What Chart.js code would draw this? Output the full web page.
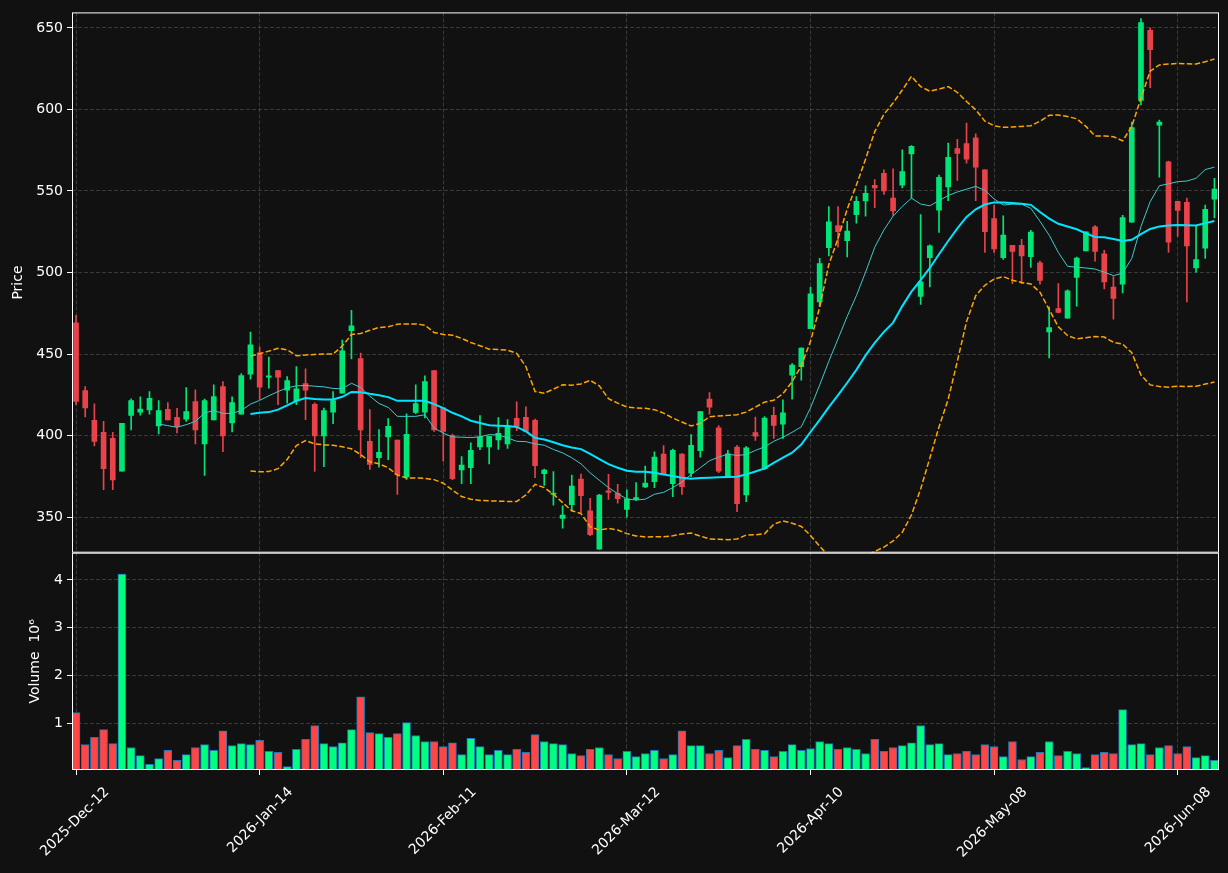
<!DOCTYPE html>
<html>
<head>
<meta charset="utf-8">
<script src="https://cdn.jsdelivr.net/npm/chart.js@4.4.1/dist/chart.umd.min.js"></script>
<style>
  html, body { margin: 0; padding: 0; background: #111111; }
  #wrap { width: 1228px; height: 873px; }
</style>
</head>
<body>
<div id="wrap"><canvas id="chart" width="1228" height="873"></canvas></div>
<script>
// OHLC per trading day, index 0 = 2025-Dec-12
const open = [469.1,427.6,409.3,402.0,398.4,378.2,412.4,414.4,415.7,405.9,
  416.1,411.2,410,420.9,394.9,409.6,430.1,407.7,413.2,437.6,
  450.8,435.8,439.8,427.8,421.3,431.9,419.1,399.8,414.4,426,
  464.4,447.2,396.5,386.4,399.2,397.2,374.6,414.2,414.4,439.8,
  417.1,400.2,378.9,380.3,393.1,393.1,397.4,394.9,410.6,411.2,
  409.3,376.6,364,349.2,357.7,373.4,353.9,330.3,366.1,364.6,
  354.7,360.8,368.5,371.7,388.6,370.5,388.6,377,390.7,422.4,
  404.7,375.2,392.9,363.6,401.8,379.7,412.4,407,437,442.2,
  465.5,482,515.3,528.8,519.5,535.4,543.9,553.4,560.8,545.6,
  553.6,572.7,485.4,509.1,538.3,552.5,576,579,582.6,562.9,
  533,509.1,516.7,516.7,509.7,505.9,463.6,477.9,472,497,
  513.3,528,511.4,491.1,492.8,530.9,605.5,648.5,590.3,567.8,
  543.6,543,502.8,515,544.9];
const high = [473.8,430.1,419.5,408.7,402,407.5,422.6,423.8,427,421.5,
  420.3,416.7,429.5,428,422.4,431.1,433.1,423.8,438,463.4,
  454.5,448.2,439.8,436.2,442.3,440.9,420.1,416.9,427,458.5,
  476.8,450.6,415.9,403.7,410.4,397.2,413.4,431.1,436.6,439.8,
  417.1,401,387.2,395.5,412.2,399.6,411,409.8,420.7,417.7,
  410.2,379.5,378,356.9,375.8,376.4,361.6,364,376.2,370.1,
  366.7,371.2,381.3,390,393.9,391.7,389,400.6,414.8,426.4,
  406.1,391,394.1,393.3,411.4,411.6,417.5,422,444.2,453.8,
  491.1,508.7,540.5,540.5,531.4,546.6,553.2,557,562.9,563.6,
  575.2,577.8,535.6,517,559.7,579.4,581.6,591.7,585,562.9,
  541.3,534.7,516.7,520.3,525.8,507,479,493.2,489.4,509.5,
  525,528.8,513.6,497.5,535,592.2,655.7,650,593.4,568.4,
  543.6,545.6,529,541.3,557.8];
const low = [419,411.4,393.7,366.9,366.9,378.2,403.5,412.6,413.2,401,
  409.6,401.6,408.7,394.9,375.6,409.6,390.2,402.2,413.2,434.6,
  422,429.1,418.9,419.9,418.9,409.8,378,381,407.3,426,
  447,386.4,379.3,380.7,385.2,364,373.2,413.4,410.8,402.6,
  384.3,373,370.5,370.5,391.3,382.7,391.5,392.1,403,402.6,
  374.2,369.5,357.3,343.3,353.8,352.8,338.6,330.3,360.8,358.5,
  350.2,360.2,368.1,368.1,376.2,362.6,364,374.8,386.8,413.2,
  377.2,374.2,353.3,359.5,397,379.1,398.2,398.2,422.3,434,
  465.5,479,510.2,515.5,509.5,530.3,534.5,539.8,547.9,535,
  551.9,545.6,480.5,491.1,524.6,544,556.4,567,544,512.3,
  512.3,508,493.2,493.2,503.2,492.8,447.7,475.2,472,479.4,
  513.3,507,490,471.4,487.5,530.9,602.8,613.3,558.5,512.3,
  522.2,482,500.2,508.7,533.5];
const close = [420.9,416.9,396.5,379.7,372.8,407.5,421.5,416.3,422.8,415.4,
  409.6,405.5,414.8,403.5,421.5,424,399.8,420.3,436.8,455.7,
  429.7,436.6,435.8,433.7,428.7,427.8,399.8,415.4,421.5,452,
  467.3,403.5,382.3,389.8,405.7,376,400.8,419.7,433.1,403.5,
  402.6,373.6,381.9,390.9,399.2,399.6,401.4,405.9,405.7,402.6,
  381.5,378.9,364.8,351.2,369.1,363.2,339.2,363.6,365.1,361.4,
  361.2,362,370.9,386.8,376.2,391,368.7,394.1,414.8,417.5,
  378.2,388.8,358.3,392.5,399.6,410.8,406.3,414,443.3,453.6,
  486.9,505.5,531.1,525,525.4,543.6,548.5,551.9,550,537.7,
  561.9,577.3,494.3,516.3,558.3,570.6,573.1,569.5,564.6,525,
  514.4,522.9,512.9,510.2,524.8,495.1,466.3,475.6,488.8,508.9,
  525,512.9,494.3,484.1,533.7,588.8,653.2,636.7,592.2,518.6,
  538.1,516.3,507.9,538.8,551.1];
// volume in millions
const volume = [1.23,0.56,0.71,0.875,0.58,4.125,0.5,0.33,0.15,0.27,
  0.44,0.23,0.35,0.5,0.56,0.44,0.85,0.54,0.58,0.56,
  0.65,0.42,0.4,0.10,0.46,0.67,0.96,0.58,0.52,0.6,
  0.875,1.56,0.81,0.79,0.71,0.79,1.02,0.75,0.625,0.625,
  0.52,0.6,0.35,0.69,0.52,0.35,0.44,0.35,0.46,0.4,
  0.77,0.625,0.58,0.56,0.375,0.33,0.46,0.5,0.35,0.27,
  0.42,0.31,0.375,0.44,0.27,0.35,0.85,0.54,0.54,0.375,
  0.44,0.29,0.54,0.67,0.46,0.44,0.31,0.42,0.56,0.44,
  0.48,0.625,0.58,0.46,0.5,0.46,0.375,0.67,0.42,0.5,
  0.54,0.6,0.96,0.56,0.58,0.35,0.375,0.42,0.35,0.56,
  0.52,0.31,0.625,0.25,0.31,0.4,0.625,0.33,0.42,0.375,
  0.08,0.35,0.4,0.375,1.29,0.56,0.58,0.35,0.5,0.54,
  0.375,0.52,0.29,0.33,0.23];

// overlays
const ma10Start = 9;
const ma10 = [407.1,406.1,405.1,406.7,408.7,413.8,415.4,413.6,413.6,415.4,
  419.3,421.6,424.4,427.0,429.3,430.5,430.7,430.3,429.9,428.9,
  428.7,432.1,429.5,424.2,419.7,417.3,411.8,411.8,411.8,412.8,
  404.7,401.5,399.2,399,398.8,399.2,400.6,400.4,398.6,396.5,
  396.3,394.9,394.1,391.5,389.4,386.4,382.7,377.2,372.6,368.1,
  364.4,361.1,360.5,361,364,365.2,368.1,371.5,376.2,380.3,
  384.6,386.8,388.6,387.8,388.4,390.9,393.1,396.5,399,402,
  405.4,417,431,445.6,459.3,473.1,485.8,500.2,515.5,526.1,
  534.6,540.5,545.6,542,540.9,544.1,547.2,549.4,551.1,552.8,
  550.4,545.1,541.4,541.9,541.9,539.4,531.4,522.9,512.3,503.8,
  503.2,502.8,502.1,500.2,498.1,499.6,508.7,528.2,543.4,553.2,
  554.4,555.7,556.1,557.8,563.1,564.6];
const ma20Start = 19;
const ma20 = [413.2,414.0,414.4,415.9,418.5,421.3,423.0,422.4,422.2,422.2,
  423.8,426.8,426.6,425.6,424.8,423.6,421.3,421.3,421.3,421.3,
  419.3,416.9,414.0,411.8,409.1,407.7,406.3,406.1,405.9,405.3,
  402.6,398.6,397.6,395.9,394.1,392.7,391.7,388.8,385.6,382.5,
  380.3,378.5,377.9,377.8,377.2,376.2,375.2,374.2,373.6,374,
  374.2,374.4,374.6,374.8,376.2,378,379.9,383.3,386.5,389.5,
  394.5,402.2,409.6,417.4,424.8,432.4,440.3,449.2,456.8,463.6,
  469.3,479.4,488.3,495.3,502.8,511.2,519.3,527.1,534.1,538.8,
  541.7,543,543,542.6,542.2,541.5,537.1,533.1,529.9,528.2,
  526.5,524,521.8,521.6,520.6,519.3,520.1,523.5,526.7,528.2,
  528.8,529.2,529,528.8,530.3,531.6];
const bbUpper = [448.8,450.2,451.8,453.5,452.6,449,449.4,449.8,450,450,
  454.9,462,462.6,464.6,466.3,466.7,468.3,468.5,468.5,467.7,
  463.2,462,461.6,459.6,457.1,455.1,453,452.8,452.4,450.4,
  442.3,427,426,428.5,431.1,430.9,431.7,433.9,430.5,422.6,
  419.9,417.5,416.9,416.7,415.9,413.8,410.8,408.3,405.9,407.5,
  411.6,412,412.4,412.8,414.4,417.5,420.5,421.7,425.7,433,
  442.8,457.8,478.6,504.9,520.8,538.8,553.6,569.5,586.4,597,
  604,611.9,620.3,614,611.2,612.5,614,610.4,604.9,599.8,
  592.8,590,589,589.2,589.6,590,592.8,596.4,596.6,595.6,
  594.3,589.6,583.7,583.7,583.3,580.7,589.6,607,623.5,627.3,
  627.8,628.2,628,627.8,629.2,630.9];
const bbLower = [378.3,377.8,378,379.7,385.4,393.9,397,394.9,394.3,394.1,
  393.1,391.9,388.4,383.9,382.7,380.3,375.8,374,374,373.8,
  373,370.8,366.6,362.6,361,360.2,360,359.8,359.6,359.6,
  363.6,370.1,368.1,364,358.9,353.9,352.2,344.1,342.1,343.1,
  342.1,339.9,338.5,337.8,338,338,338.6,339.6,340.2,338.4,
  336.6,336.4,336.2,336.6,339,339.2,339.8,345.7,347.7,346.3,
  344.3,338.8,332.2,326,324,322,323,326,329,331.6,
  335.4,340.7,351.3,367.2,386.2,405.3,422.2,445.6,469.9,485.8,
  492.2,496,497.5,495.3,493.9,493,487.9,477.3,466.7,461.4,
  459.3,460,460.8,460.4,457.2,456.1,450.8,437.1,431.1,430.1,
  429.7,430.3,430.1,430.3,431.6,432.8];

const tickIndex = [0, 20, 40, 60, 80, 100, 120];
const tickDates = ['2025-Dec-12', '2026-Jan-14', '2026-Feb-11', '2026-Mar-12',
  '2026-Apr-10', '2026-May-08', '2026-Jun-08'];
const priceTicks = [350, 400, 450, 500, 550, 600, 650];
const volumeTicks = [1, 2, 3, 4];

Chart.defaults.font.family = "'DejaVu Sans', sans-serif";
Chart.defaults.font.size = 14;
Chart.defaults.color = '#ffffff';

const isUp = close.map((c, i) => c >= open[i]);
const candleColor = isUp.map(u => u ? '#00e676' : '#e8434a');
const volColor = isUp.map(u => u ? '#00ff80' : '#ff4646');

function series(values, start) {
  return values.map((v, k) => ({ x: k + start, y: v }));
}

function lineSet(label, values, start, color, width, dash) {
  return {
    type: 'line', label: label, data: series(values, start),
    borderColor: color, borderWidth: width, borderDash: dash || [],
    pointRadius: 0, tension: 0, fill: false, yAxisID: 'y', order: 0
  };
}

const gridColor = 'rgba(255,255,255,0.17)';

const panelFrame = {
  id: 'panelFrame',
  beforeDraw(chart) {
    const ctx = chart.ctx;
    ctx.save();
    ctx.fillStyle = '#111111';
    ctx.fillRect(0, 0, chart.width, chart.height);
    ctx.restore();
  },
  afterDraw(chart) {
    const { ctx, chartArea } = chart;
    ctx.save();
    ctx.strokeStyle = '#ffffff';
    ctx.lineWidth = 1;
    ['y', 'yv'].forEach(id => {
      const s = chart.scales[id];
      ctx.strokeRect(chartArea.left + 0.5, s.top + 0.5,
        chartArea.right - chartArea.left - 1, s.bottom - s.top - 1);
    });
    ctx.restore();
  }
};

new Chart(document.getElementById('chart'), {
  type: 'bar',
  data: {
    datasets: [
      lineSet('MA20', ma20, ma20Start, '#00e5ff', 2),
      lineSet('MA10', ma10, ma10Start, '#3fc9c9', 1),
      lineSet('BB upper', bbUpper, ma20Start, '#ffa500', 1.5, [5.5, 2.4]),
      lineSet('BB lower', bbLower, ma20Start, '#ffa500', 1.5, [5.5, 2.4]),
      {
        label: 'body',
        data: close.map((c, i) => ({ x: i, y: [open[i], c] })),
        backgroundColor: candleColor, barThickness: 5, minBarLength: 1,
        grouped: false, yAxisID: 'y', order: 1
      },
      {
        label: 'wick',
        data: close.map((c, i) => ({ x: i, y: [low[i], high[i]] })),
        backgroundColor: candleColor, barThickness: 1,
        grouped: false, yAxisID: 'y', order: 2
      },
      {
        label: 'volume',
        data: volume.map((v, i) => ({ x: i, y: v })),
        backgroundColor: volColor, borderColor: '#1f77b4', borderWidth: 1,
        barThickness: 8, grouped: false, yAxisID: 'yv', order: 3
      }
    ]
  },
  options: {
    responsive: false,
    animation: false,
    layout: { padding: { left: 0, top: 10, right: 9, bottom: 0 } },
    plugins: { legend: { display: false }, tooltip: { enabled: false } },
    scales: {
      x: {
        type: 'linear', min: -0.44, max: 124.5, offset: false,
        afterBuildTicks: s => { s.ticks = tickIndex.map(v => ({ value: v })); },
        afterFit: s => { s.height = 103; },
        ticks: {
          autoSkip: false, minRotation: 45, maxRotation: 45,
          labelOffset: 31, padding: 9, color: '#ffffff',
          callback: v => tickDates[tickIndex.indexOf(v)]
        },
        grid: { offset: false, color: gridColor, tickColor: '#ffffff', tickLength: 5 },
        border: { display: false, dash: [4, 2] }
      },
      yv: {
        type: 'linear', position: 'left', stack: 'panels', stackWeight: 218,
        min: 0.03, max: 4.57,
        afterBuildTicks: s => { s.ticks = volumeTicks.map(v => ({ value: v })); },
        afterFit: s => { s.width = 72; },
        ticks: { color: '#ffffff', padding: 4 },
        grid: { color: gridColor, tickColor: '#ffffff', tickLength: 5 },
        border: { display: false, dash: [4, 2] },
        title: { display: true, text: 'Volume  10\u2076', color: '#ffffff', padding: { top: 27, bottom: 0 } }
      },
      y: {
        type: 'linear', position: 'left', stack: 'panels', stackWeight: 542,
        min: 328.2, max: 659.5,
        afterBuildTicks: s => { s.ticks = priceTicks.map(v => ({ value: v })); },
        afterFit: s => { s.width = 72; },
        ticks: { color: '#ffffff', padding: 4 },
        grid: { color: gridColor, tickColor: '#ffffff', tickLength: 5 },
        border: { display: false, dash: [4, 2] },
        title: { display: true, text: 'Price', color: '#ffffff', padding: { top: 10, bottom: 0 } }
      }
    }
  },
  plugins: [panelFrame]
});
</script>
</body>
</html>
